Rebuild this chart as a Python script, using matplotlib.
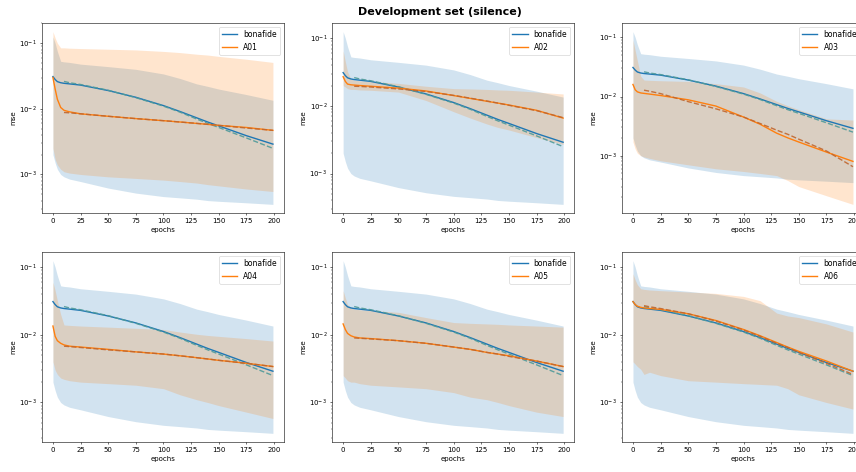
import numpy as np
import matplotlib.pyplot as plt

epochs = [0, 2, 4, 7, 10, 15, 25, 50, 75, 100, 115, 130, 140, 150, 175, 199]
fit_epochs = [10, 15, 25, 50, 75, 100, 115, 130, 140, 150, 175, 199]

# bonafide (same in every panel)
bona_mean = [0.031, 0.028, 0.026, 0.025, 0.0245, 0.024, 0.023, 0.019, 0.015, 0.0112,
             0.0091, 0.0073, 0.0063, 0.0055, 0.0039, 0.0029]
bona_fit = [0.0262, 0.025, 0.0235, 0.0192, 0.0148, 0.011, 0.0089, 0.007, 0.006, 0.0052,
            0.0036, 0.0025]
bona_hi = [0.125, 0.1, 0.075, 0.053, 0.052, 0.051, 0.048, 0.044, 0.04, 0.034,
           0.029, 0.024, 0.022, 0.02, 0.0165, 0.0135]
bona_lo = [0.002, 0.0015, 0.0012, 0.001, 0.00092, 0.00085, 0.00078, 0.00062, 0.00052, 0.00046,
           0.00044, 0.00042, 0.0004, 0.00039, 0.00037, 0.00035]

# attacks
a01_mean = [0.03, 0.02, 0.014, 0.0105, 0.0095, 0.009, 0.0084, 0.0077, 0.0071, 0.0066,
            0.0063, 0.006, 0.0058, 0.0056, 0.0052, 0.0047]
a01_fit = [0.0088, 0.0087, 0.0084, 0.0077, 0.0071, 0.0066, 0.0063, 0.006, 0.0058, 0.0056,
           0.0051, 0.0047]
a01_hi = [0.15, 0.12, 0.1, 0.085, 0.085, 0.084, 0.083, 0.081, 0.079, 0.075,
          0.072, 0.068, 0.066, 0.063, 0.057, 0.051]
a01_lo = [0.0025, 0.0017, 0.0014, 0.0012, 0.0011, 0.00105, 0.001, 0.00092, 0.00087, 0.00082,
          0.00078, 0.00074, 0.0007, 0.00067, 0.0006, 0.00055]

a02_mean = [0.027, 0.023, 0.021, 0.0205, 0.0203, 0.02, 0.0195, 0.0183, 0.0166, 0.0142,
            0.0129, 0.0117, 0.011, 0.0103, 0.0086, 0.0066]
a02_fit = [0.0195, 0.0194, 0.019, 0.0178, 0.0163, 0.0143, 0.013, 0.0118, 0.011, 0.0102,
           0.0085, 0.0067]
a02_hi = [0.065, 0.045, 0.032, 0.025, 0.024, 0.0235, 0.023, 0.0215, 0.0195, 0.018,
          0.0178, 0.0175, 0.0172, 0.017, 0.016, 0.015]
a02_lo = [0.02, 0.019, 0.018, 0.0175, 0.0175, 0.0172, 0.017, 0.016, 0.012, 0.0082,
          0.0066, 0.0054, 0.0048, 0.0044, 0.0034, 0.0027]

a03_mean = [0.016, 0.013, 0.012, 0.0115, 0.0113, 0.011, 0.0104, 0.0088, 0.0069, 0.0045,
            0.0034, 0.0024, 0.002, 0.0017, 0.00115, 0.0008]
a03_fit = [0.0128, 0.0123, 0.0112, 0.0082, 0.0062, 0.0045, 0.0035, 0.0027, 0.0023, 0.0019,
           0.0012, 0.00065]
a03_hi = [0.09, 0.06, 0.04, 0.022, 0.019, 0.0188, 0.0185, 0.018, 0.0165, 0.0145,
          0.0115, 0.0083, 0.007, 0.006, 0.0042, 0.004]
a03_lo = [0.0017, 0.0013, 0.0011, 0.001, 0.00095, 0.0009, 0.00082, 0.0007, 0.0006, 0.00054,
          0.0005, 0.00046, 0.00038, 0.0003, 0.00021, 0.00015]

a04_mean = [0.0135, 0.0095, 0.0082, 0.0075, 0.0071, 0.0068, 0.0066, 0.0061, 0.0056, 0.0052,
            0.0049, 0.0046, 0.0044, 0.0042, 0.0038, 0.0034]
a04_fit = [0.0068, 0.0067, 0.0065, 0.006, 0.0056, 0.0052, 0.0049, 0.0046, 0.0044, 0.0042,
           0.0038, 0.0034]
a04_hi = [0.06, 0.045, 0.032, 0.02, 0.014, 0.0138, 0.0135, 0.013, 0.0125, 0.012,
          0.011, 0.0102, 0.0098, 0.0095, 0.0088, 0.0081]
a04_lo = [0.004, 0.003, 0.0026, 0.0023, 0.0022, 0.0021, 0.002, 0.0019, 0.0018, 0.0016,
          0.0013, 0.0011, 0.001, 0.0009, 0.00072, 0.00058]

a05_mean = [0.0145, 0.012, 0.0105, 0.0097, 0.0093, 0.009, 0.0088, 0.0082, 0.0075, 0.0066,
            0.0061, 0.0055, 0.0052, 0.0049, 0.0041, 0.0034]
a05_fit = [0.009, 0.0089, 0.0087, 0.0082, 0.0075, 0.0066, 0.0061, 0.0055, 0.0052, 0.0048,
           0.0041, 0.0034]
a05_hi = [0.045, 0.035, 0.028, 0.025, 0.024, 0.0235, 0.023, 0.0215, 0.018, 0.0152,
          0.0148, 0.0145, 0.0143, 0.014, 0.0135, 0.013]
a05_lo = [0.0025, 0.0023, 0.0021, 0.002, 0.002, 0.0019, 0.0018, 0.0017, 0.0016, 0.0014,
          0.0012, 0.0011, 0.001, 0.0009, 0.00072, 0.00062]

a06_mean = [0.031, 0.028, 0.0265, 0.0255, 0.025, 0.0245, 0.0238, 0.0205, 0.0163, 0.012,
            0.0097, 0.0077, 0.0066, 0.0057, 0.0041, 0.0029]
a06_fit = [0.027, 0.026, 0.0245, 0.0205, 0.016, 0.0118, 0.0095, 0.0075, 0.0065, 0.0055,
           0.0038, 0.0026]
a06_hi = [0.08, 0.065, 0.055, 0.048, 0.047, 0.046, 0.045, 0.043, 0.041, 0.037,
          0.032, 0.021, 0.019, 0.018, 0.0145, 0.011]
a06_lo = [0.004, 0.0037, 0.0034, 0.0031, 0.0026, 0.0028, 0.0025, 0.0021, 0.002, 0.0019,
          0.00185, 0.0018, 0.0016, 0.0013, 0.001, 0.0008]

attacks = [
    ("A01", a01_mean, a01_fit, a01_hi, a01_lo),
    ("A02", a02_mean, a02_fit, a02_hi, a02_lo),
    ("A03", a03_mean, a03_fit, a03_hi, a03_lo),
    ("A04", a04_mean, a04_fit, a04_hi, a04_lo),
    ("A05", a05_mean, a05_fit, a05_hi, a05_lo),
    ("A06", a06_mean, a06_fit, a06_hi, a06_lo),
]

blue = "#1f77b4"
orange = "#ff7f0e"

fig = plt.figure(figsize=(17.12, 9.44), dpi=50)

# axes positions (third column runs past the right edge, as in the reference)
lefts = [0.049, 0.388, 0.7266]
bottoms = [0.5487, 0.0636]
w, h = 0.2827, 0.4025

for i, (name, m, f, hi, lo) in enumerate(attacks):
    ax = fig.add_axes([lefts[i % 3], bottoms[i // 3], w, h])
    ax.fill_between(epochs, bona_lo, bona_hi, color=blue, alpha=0.2, linewidth=0)
    ax.fill_between(epochs, lo, hi, color=orange, alpha=0.2, linewidth=0)
    ax.plot(epochs, bona_mean, color=blue, lw=2, label="bonafide")
    ax.plot(fit_epochs, bona_fit, "--", color="#4f9a9a", lw=2, alpha=0.9)
    ax.plot(epochs, m, color=orange, lw=2, label=name)
    ax.plot(fit_epochs, f, "--", color="#c0662e", lw=2, alpha=0.9)
    ax.set_yscale("log")
    ax.set_xticks([0, 25, 50, 75, 100, 125, 150, 175, 200])
    ax.set_xlabel("epochs")
    ax.set_ylabel("mse")
    ax.legend(loc="upper right", fontsize=11)

fig.suptitle("Development set (silence)", x=0.514, y=0.975, va="center",
             fontsize=16, fontweight="bold")

plt.savefig("out.png", dpi=50)
